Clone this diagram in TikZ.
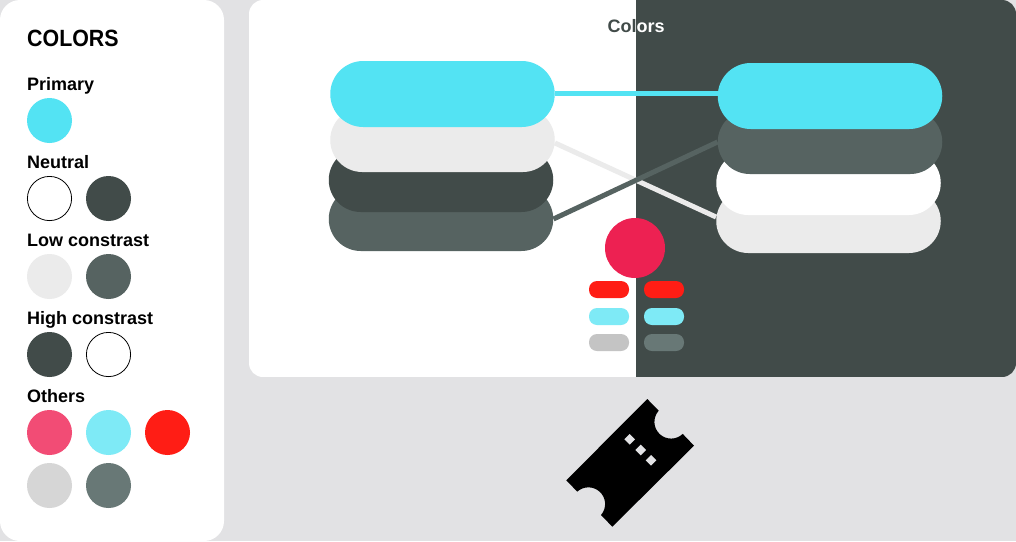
\documentclass[tikz,border=0pt]{standalone}
\usepackage{fontspec}
\setmainfont{Liberation Sans}
\usetikzlibrary{calc}
\definecolor{bgc}{HTML}{E2E2E4}
\definecolor{cyanc}{HTML}{53E3F3}
\definecolor{lightc}{HTML}{EBEBEB}
\definecolor{darkc}{HTML}{414B49}
\definecolor{grayc}{HTML}{566361}
\definecolor{pinkc}{HTML}{F24C75}
\definecolor{skyc}{HTML}{7EEAF6}
\definecolor{redc}{HTML}{FF1D15}
\definecolor{silverc}{HTML}{D6D6D6}
\definecolor{slatec}{HTML}{687876}
\definecolor{crimsonc}{HTML}{ED2152}
\definecolor{pillgray}{HTML}{C4C4C4}
\pgfdeclarelayer{panel}
\pgfdeclarelayer{conn}
\pgfsetlayers{panel,conn,main}
\tikzset{
  lab/.style={anchor=base west,inner sep=0pt,font=\bfseries\fontsize{18}{18}\selectfont},
  swatch/.style={circle,inner sep=0pt,minimum size=45pt,fill=#1},
  ringswatch/.style={circle,inner sep=0pt,minimum size=44.2pt,fill=white,draw=black,line width=.8pt},
  bar/.style={rectangle,rounded corners=#1,inner sep=0pt,minimum width=224.5pt},
  pill/.style={rectangle,rounded corners=8pt,inner sep=0pt,minimum width=40pt,minimum height=17pt,fill=#1},
  link/.style={line width=5pt,draw=#1},
  dot/.style={fill=bgc}
}
\begin{document}
\begin{tikzpicture}[x=1pt,y=-1pt]
\useasboundingbox (0,0) rectangle (1016,541);
\begin{pgfonlayer}{panel}
\fill[bgc] (0,0) rectangle (1016,541);
\fill[white,rounded corners=20pt] (-0.01,0) rectangle (224,541);
\begin{scope}
  \clip[rounded corners=14pt] (249,0) rectangle (1016,377);
  \fill[white] (249,0) rectangle (636,377);
  \fill[darkc] (636,0) rectangle (1016,377);
\end{scope}
\end{pgfonlayer}

% sidebar
\node[anchor=base west,inner sep=0pt,font=\bfseries\fontsize{23.5}{24}\selectfont,xscale=.91,transform shape] (head) at (27,46.7) {COLORS};
\node[lab] (l1) at (27,90) {Primary};
\node[swatch=cyanc] (s1) at (49.5,120.5) {};
\node[lab] (l2) at (27,168) {Neutral};
\node[ringswatch] (s2) at (49.5,198.5) {};
\node[swatch=darkc] (s3) at (108.5,198.5) {};
\node[lab] (l3) at (27,246) {Low constrast};
\node[swatch=lightc] (s4) at (49.5,276.5) {};
\node[swatch=grayc] (s5) at (108.5,276.5) {};
\node[lab] (l4) at (27,324) {High constrast};
\node[swatch=darkc] (s6) at (49.5,354.5) {};
\node[ringswatch] (s7) at (108.5,354.5) {};
\node[lab] (l5) at (27,402) {Others};
\node[swatch=pinkc] (s8) at (49.5,432.5) {};
\node[swatch=skyc] (s9) at (108.5,432.5) {};
\node[swatch=redc] (s10) at (167.5,432.5) {};
\node[swatch=silverc] (s11) at (49.5,485.5) {};
\node[swatch=slatec] (s12) at (108.5,485.5) {};

% title, split across the two halves
\begin{scope}
  \clip (500,0) rectangle (636,60);
  \node[anchor=base,inner sep=0pt,text=darkc,font=\bfseries\fontsize{18}{18}\selectfont] (ta) at (636,32) {Colors};
\end{scope}
\begin{scope}
  \clip (636,0) rectangle (800,60);
  \node[anchor=base,inner sep=0pt,text=white,font=\bfseries\fontsize{18}{18}\selectfont] (tb) at (636,32) {Colors};
\end{scope}

% left stack
\node[bar=32pt,fill=grayc,minimum height=64pt] (lg) at (441,219) {};
\node[bar=32pt,fill=darkc,minimum height=64pt] (ld) at (441,180) {};
\node[bar=32pt,fill=lightc,minimum height=64pt] (ll) at (442.5,140) {};
\node[bar=33pt,fill=cyanc,minimum height=66pt] (lc) at (442.5,94) {};
% right stack
\node[bar=32pt,fill=lightc,minimum height=64pt] (rl) at (828.5,221) {};
\node[bar=32pt,fill=white,minimum height=64pt] (rw) at (828.5,183) {};
\node[bar=32pt,fill=grayc,minimum height=64pt] (rg) at (830,142) {};
\node[bar=33pt,fill=cyanc,minimum height=66pt] (rc) at (830,96) {};

\begin{pgfonlayer}{conn}
\draw[link=cyanc] ([yshift=1pt]lc.east) -- ([yshift=3pt]rc.west);
\draw[link=lightc] ([yshift=-3pt]ll.east) -- ([yshift=4pt]rl.west);
\draw[link=grayc] (lg.east) -- (rg.west);
\end{pgfonlayer}

% centre
\node[circle,inner sep=0pt,minimum size=60pt,fill=crimsonc] (big) at (635,248) {};
\node[pill=redc] (p1) at (609,289.5) {};
\node[pill=redc] (p2) at (664,289.5) {};
\node[pill=skyc] (p3) at (609,316.5) {};
\node[pill=skyc] (p4) at (664,316.5) {};
\node[pill=pillgray] (p5) at (609,342.5) {};
\node[pill=slatec] (p6) at (664,342.5) {};

% ticket
\fill[black] (647.3,399) -- (658.7,410.7) arc (222:46:16.7) -- (694,445.7)
  -- (612.3,526.7) -- (601,515) arc (41:-132:16.7) -- (566.3,480.3) -- cycle;
\foreach \cx/\cy in {629.7/439.3,640.7/450,651/460.3}
  \fill[dot] (\cx-5.3,\cy) -- (\cx,\cy-5.3) -- (\cx+5.3,\cy) -- (\cx,\cy+5.3) -- cycle;
\end{tikzpicture}
\end{document}
